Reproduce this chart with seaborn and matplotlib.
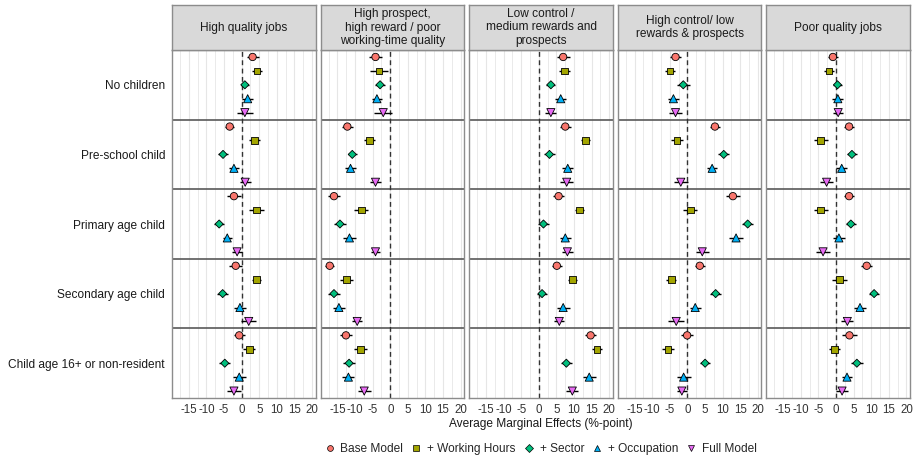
import numpy as np
import pandas as pd
import matplotlib
matplotlib.use("Agg")
import matplotlib.pyplot as plt
from matplotlib.lines import Line2D
import seaborn as sns

sns.set_theme(style="white")
plt.rcParams["font.family"] = ["Liberation Sans", "DejaVu Sans"]

# ---- data -------------------------------------------------------------
job_types = [
    "High quality jobs",
    "High prospect,\nhigh reward / poor\nworking-time quality",
    "Low control /\nmedium rewards and\nprospects",
    "High control/ low\nrewards & prospects",
    "Poor quality jobs",
]
child_groups = [
    "No children",
    "Pre-school child",
    "Primary age child",
    "Secondary age child",
    "Child age 16+ or non-resident",
]
models = ["Base Model", "+ Working Hours", "+ Sector", "+ Occupation", "Full Model"]

# average marginal effects (%-point): rows = child group, cols = model
ame_high_quality = [
    [3.1, 4.3, 0.9, 1.7, 0.9],
    [-3.4, 3.6, -5.3, -2.2, 1.0],
    [-2.2, 4.2, -6.4, -4.1, -1.3],
    [-1.7, 4.2, -5.4, -0.5, 2.0],
    [-0.7, 2.2, -4.8, -0.7, -2.2],
]
ame_high_prospect = [
    [-4.2, -3.2, -2.9, -3.8, -2.0],
    [-12.2, -5.9, -10.8, -11.3, -4.2],
    [-16.0, -8.2, -14.3, -11.6, -4.2],
    [-17.2, -12.4, -16.0, -14.6, -9.4],
    [-12.6, -8.4, -11.7, -11.9, -7.4],
]
ame_low_control = [
    [6.9, 7.3, 3.4, 6.2, 3.4],
    [7.5, 13.2, 3.0, 8.2, 7.9],
    [5.6, 11.5, 1.3, 7.5, 8.1],
    [5.1, 9.5, 0.9, 6.9, 5.8],
    [14.7, 16.5, 7.8, 14.3, 9.5],
]
ame_high_control = [
    [-3.4, -5.0, -1.2, -4.0, -3.4],
    [7.8, -3.0, 10.3, 7.0, -1.9],
    [12.9, 0.8, 17.1, 13.8, 4.2],
    [3.5, -4.6, 8.0, 2.2, -3.2],
    [-0.1, -5.5, 5.0, -1.1, -1.6],
]
ame_poor_quality = [
    [-0.9, -2.0, 0.4, 0.5, 0.6],
    [3.7, -4.4, 4.5, 1.6, -2.7],
    [3.7, -4.4, 4.2, 0.8, -3.7],
    [8.7, 0.9, 10.8, 6.8, 3.2],
    [3.8, -0.4, 5.9, 3.1, 1.7],
]

# half-widths of the 95% confidence intervals
ci_high_quality = [
    [1.7, 1.5, 1.2, 1.5, 2.3],
    [1.3, 1.6, 1.4, 1.3, 1.6],
    [2.0, 2.0, 1.5, 1.3, 1.5],
    [1.9, 1.3, 1.6, 1.6, 2.2],
    [1.6, 1.7, 1.6, 1.8, 2.0],
]
ci_high_prospect = [
    [1.8, 2.5, 1.5, 1.5, 2.6],
    [1.6, 1.5, 1.3, 1.6, 1.5],
    [1.7, 2.0, 1.8, 1.8, 1.4],
    [1.3, 1.8, 1.6, 1.6, 1.5],
    [1.6, 1.8, 1.6, 1.7, 1.8],
]
ci_low_control = [
    [1.8, 1.6, 1.3, 1.5, 1.6],
    [1.5, 1.3, 1.5, 1.5, 1.8],
    [1.5, 1.2, 1.5, 1.6, 1.6],
    [1.5, 1.3, 1.4, 1.8, 1.4],
    [1.6, 1.4, 1.6, 1.8, 1.7],
]
ci_high_control = [
    [1.5, 1.5, 1.9, 1.6, 1.9],
    [1.5, 1.8, 1.5, 1.5, 2.0],
    [2.0, 2.0, 1.6, 1.9, 1.8],
    [1.5, 1.4, 1.5, 1.6, 2.3],
    [1.8, 1.6, 1.4, 2.0, 1.4],
]
ci_poor_quality = [
    [1.5, 1.5, 1.3, 1.6, 1.5],
    [1.5, 2.0, 1.5, 1.6, 1.8],
    [1.5, 2.0, 1.5, 1.8, 2.1],
    [1.5, 2.1, 1.5, 1.7, 1.7],
    [2.0, 1.5, 1.8, 1.5, 1.7],
]

ame_tables = [ame_high_quality, ame_high_prospect, ame_low_control,
              ame_high_control, ame_poor_quality]
ci_tables = [ci_high_quality, ci_high_prospect, ci_low_control,
             ci_high_control, ci_poor_quality]

x_ticks = [-15, -10, -5, 0, 5, 10, 15, 20]

# ---- long table -------------------------------------------------------
rows = []
for j, job in enumerate(job_types):
    for g, grp in enumerate(child_groups):
        for m, mod in enumerate(models):
            est = ame_tables[j][g][m]
            half = ci_tables[j][g][m]
            rows.append(dict(job=job, group=grp, g=g + 1, model=mod, m=m,
                             est=est, lo=est - half, hi=est + half))
df = pd.DataFrame(rows)
dodge = 0.2
df["ypos"] = df["g"] + (df["m"] - 2) * dodge

palette = dict(zip(models, ["#F8766D", "#A3A500", "#00BF7D", "#00B0F6", "#E76BF3"]))
markers = dict(zip(models, ["o", "s", "D", "^", "v"]))
sizes = dict(zip(models, [28, 22, 17, 34, 34]))

# ---- figure -----------------------------------------------------------
W, H = 918, 459
fig = plt.figure(figsize=(W / 100, H / 100), dpi=100)

panel_left0 = 172
panel_step = 148.6
panel_w = 143.6
panel_top = 50
panel_bottom = 398
strip_top = 5

border_col = "#8c8c8c"
for j, job in enumerate(job_types):
    left = panel_left0 + j * panel_step
    ax = fig.add_axes([left / W, 1 - panel_bottom / H, panel_w / W,
                       (panel_bottom - panel_top) / H])
    sub = df[df["job"] == job]

    ax.set_xlim(-19.8, 21)
    ax.set_ylim(5.5, 0.5)
    for v in np.arange(-17.5, 21, 2.5):
        ax.axvline(v, color="#e6e6e6", lw=0.8 if v % 5 == 0 else 0.6, zorder=0)
    for sep in [1.5, 2.5, 3.5, 4.5]:
        ax.axhline(sep, color="#595959", lw=1.2, zorder=1)
    ax.axvline(0, color="#333333", lw=1.0, ls=(0, (3.5, 2.5)), zorder=1)

    ax.hlines(sub["ypos"], sub["lo"], sub["hi"], color="black", lw=1.0, zorder=2)
    sns.scatterplot(data=sub, x="est", y="ypos", hue="model", style="model",
                    size="model", palette=palette, markers=markers, sizes=sizes,
                    hue_order=models, style_order=models, size_order=models,
                    edgecolor="black", linewidth=0.6, legend=False, ax=ax,
                    zorder=3)

    ax.set_xticks(x_ticks)
    ax.set_xticklabels([str(t) for t in x_ticks])
    ax.tick_params(axis="x", length=2.5, width=0.6, color="#333333", pad=1.5,
                   labelsize=8.3, labelcolor="#333333")
    ax.set_yticks(range(1, 6))
    if j == 0:
        ax.set_yticklabels(child_groups)
        ax.tick_params(axis="y", length=0, pad=5, labelsize=8.6,
                       labelcolor="#1a1a1a")
    else:
        ax.set_yticklabels([])
        ax.tick_params(axis="y", length=0)
    ax.set_xlabel("")
    ax.set_ylabel("")
    for s in ax.spines.values():
        s.set_color(border_col)
        s.set_linewidth(1.0)

    # facet strip
    sax = fig.add_axes([left / W, 1 - panel_top / H, panel_w / W,
                        (panel_top - strip_top) / H])
    sax.set_facecolor("#d9d9d9")
    sax.set_xticks([])
    sax.set_yticks([])
    for s in sax.spines.values():
        s.set_color(border_col)
        s.set_linewidth(1.0)
    sax.text(0.5, 0.5, job, ha="center", va="center", fontsize=8.6,
             color="#1a1a1a", linespacing=1.2, transform=sax.transAxes)

center_x = (panel_left0 + 4 * panel_step + panel_w + panel_left0) / 2 / W
fig.text(center_x, 1 - 424 / H, "Average Marginal Effects (%-point)",
         ha="center", va="center", fontsize=8.6, color="#1a1a1a")

handles = [Line2D([0], [0], marker=markers[m], color="none",
                  markerfacecolor=palette[m], markeredgecolor="black",
                  markeredgewidth=0.5, markersize=4.2 if m != "+ Sector" else 3.6)
           for m in models]
fig.legend(handles, models, loc="center", bbox_to_anchor=(center_x, 1 - 449 / H),
           ncol=5, frameon=False, fontsize=8.6, handlelength=0.8,
           handletextpad=0.5, columnspacing=0.7)

fig.savefig("out.png", dpi=100)
